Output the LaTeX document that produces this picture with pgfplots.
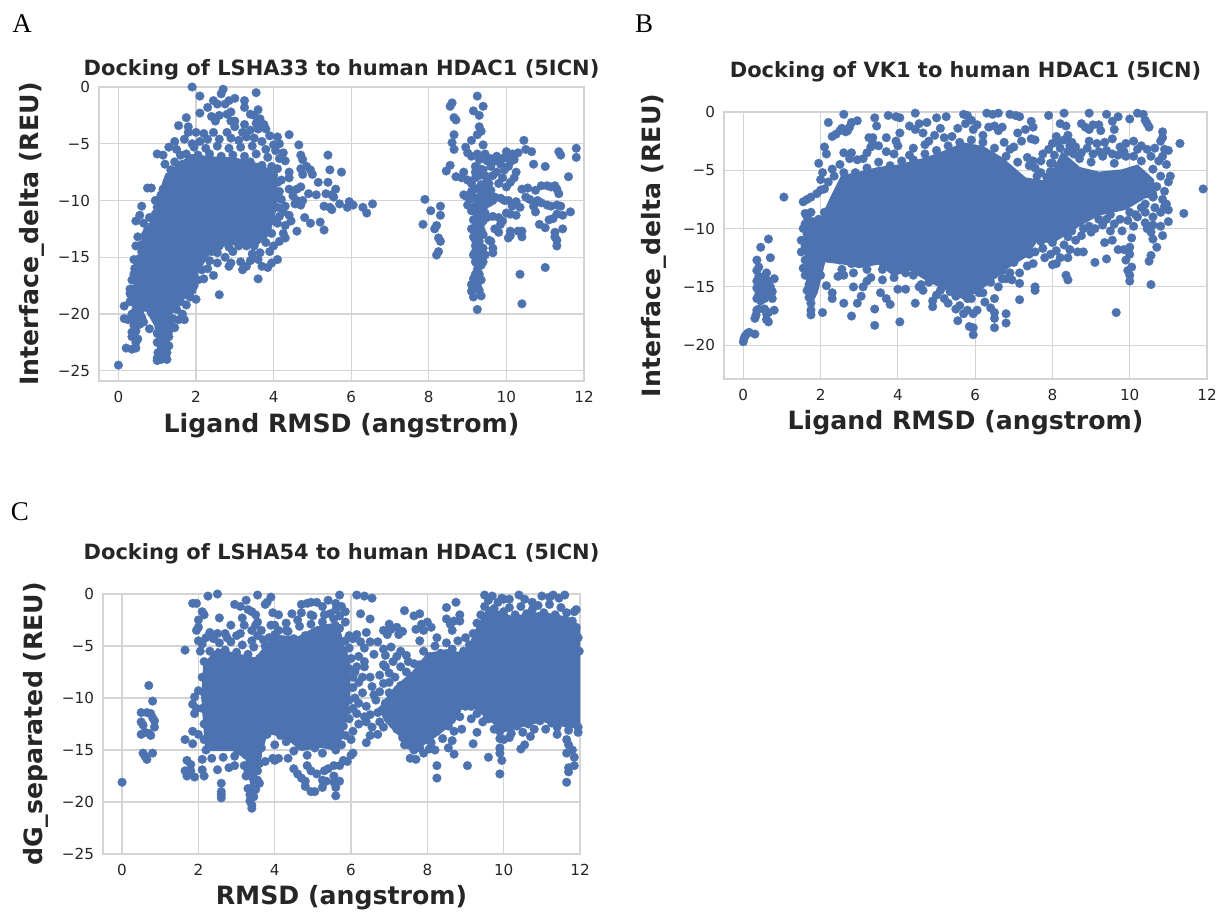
\documentclass[border=0pt]{standalone}
\usepackage{fontspec}
\setmainfont{DejaVu Sans}
\newfontfamily\serifl{Liberation Serif}
\usepackage{pgfplots}
\pgfplotsset{compat=1.18}
\definecolor{dot}{HTML}{4C72B0}
\definecolor{gr}{HTML}{D4D4D4}
\definecolor{tx}{HTML}{262626}
\newcommand\lf{\fontsize{12.6}{14}\selectfont\bfseries\color{tx}}
\newcommand\tf{\fontsize{10.5}{12}\selectfont\bfseries\color{tx}}
% NOTE: all values are estimates. The saturated centre of each
% cloud, where single points cannot be told apart, is drawn as a filled outline (core);
% the points around it are a hand-read sample, not the original data set.
\pgfplotsset{
 panel/.style={scale only axis,axis line style={gr,line width=0.6pt},grid=major,
  grid style={gr,line width=0.6pt},tick style={draw=none},
  xmax=12,xmin=-0.5,xtick={0,2,4,6,8,10,12},
  /pgf/number format/assume math mode=true,
  tick label style={font=\fontsize{7.6}{9}\selectfont,text=tx},
  xticklabel style={yshift=-1.5pt},yticklabel style={xshift=-1pt}},
 pts/.style={only marks,mark=*,mark size=2.2pt,mark options={fill=dot,draw=dot,line width=0.1pt}},
 core/.style={fill=dot,draw=dot,line width=1pt,no markers}
}
\begin{document}
\begin{tikzpicture}
\path[use as bounding box] (0,0) rectangle (609.5pt,456pt);
\node[font=\fontsize{13.5}{15}\selectfont\serifl,text=black] at (11pt,444pt) {A};
\node[font=\fontsize{13.5}{15}\selectfont\serifl,text=black] at (322pt,444pt) {B};
\node[font=\fontsize{13.5}{15}\selectfont\serifl,text=black] at (10pt,200pt) {C};
% ---------- A
\begin{axis}[panel,at={(49.5pt,412.5pt)},anchor=north west,width=242.5pt,height=147pt,
 ymin=-25.9,ymax=0,ytick={-25,-20,-15,-10,-5,0},yticklabels={−25,−20,−15,−10,−5,0},
 title={Docking of LSHA33 to human HDAC1 (5ICN)},
 xlabel={Ligand RMSD (angstrom)},ylabel={Interface\_delta (REU)},
 every axis y label/.style={at={(axis description cs:-0.138,0.5)},rotate=90,anchor=center,font=\lf},
 every axis x label/.style={at={(axis description cs:0.5,-0.153)},anchor=center,font=\lf},
 every axis title/.style={at={(axis description cs:0.5,1.058)},anchor=center,font=\tf}]
\addplot[core] coordinates {(0.4,-19)(0.45,-16.5)(0.6,-14)(0.85,-12)(1.0,-10)(1.2,-8)(1.55,-6.8)(1.9,-6)(2.4,-6.2)(3,-6.3)(3.6,-6.8)(4.0,-7.5)(4.1,-9.5)(4.0,-11.5)(3.85,-12.8)(3.55,-14)(2.8,-13.8)(2.35,-14.6)(1.95,-16.8)(1.65,-18.8)(1.35,-20)(1.28,-23.3)(1.03,-23.3)(0.95,-21)(0.7,-19.5)} --cycle;
\addplot[pts] coordinates {(1.9,0)(2.1,-0.8)(2.65,-0.6)(2.7,-0.2)(2.85,-1.2)(3.0,-1.0)(3.55,-0.5)(2.45,-1.2)(2.55,-1.5)(2.3,-1.8)(2.1,-2.3)(2.75,-1.5)(3.25,-1.8)(3.25,-1.2)(3.6,-2)(3.5,-2.5)(2.4,-2.6)(2.6,-2.5)(2.8,-2.4)(2.9,-2.2)(3.65,-2.8)(3.4,-2.4)(2.5,-3)(2.9,-3)(3.0,-3.0)(3.25,-3.3)(3.55,-3.2)(3.75,-3.3)(1.75,-2.7)(1.55,-3.4)(1.8,-3.5)(1.8,-4)(2.0,-4)(2.2,-4.1)(2.45,-4)(2.8,-4)(3,-3.5)(3.2,-4)(3.4,-3.8)(3.6,-3.7)(3.8,-3.7)(3.9,-4.3)(4.1,-4.4)(3.5,-4.5)(4.4,-4.2)(1.45,-4.8)(1.3,-5.3)(1.7,-4.6)(1.9,-5)(2.1,-4.8)(2.3,-4.6)(2.6,-4.6)(2.9,-4.5)(3.1,-4.7)(3.3,-4.4)(3.7,-4.8)(4.0,-5.1)(4.15,-5.0)(1.0,-5.9)(1.15,-6)(1.5,-5.5)(1.6,-6)(1.2,-6.8)(4.25,-5.8)(4.3,-6.5)(4.65,-5.1)(4.7,-6)(4.75,-6.4)(5.4,-6)(4.7,-7.2)(4.85,-7)(4.95,-7.3)(5.0,-7.7)(4.75,-7.7)(5.45,-7.3)(5.75,-7.5)(4.4,-7.5)(4.4,-8)(4.2,-8.2)(5.15,-8.4)(5.4,-8.4)(4.4,-9)(4.6,-9)(4.7,-8.8)(4.9,-9.4)(5.1,-9.5)(5.35,-9.4)(5.5,-9.5)(5.6,-9)(5.55,-9.7)(4.5,-9.6)(4.6,-10)(4.75,-10)(4.7,-10.4)(4.55,-10.3)(5.3,-10.5)(5.5,-10.8)(5.7,-10.3)(5.45,-10.6)(5.9,-10.6)(5.95,-10.1)(6.05,-10.4)(6.3,-10.6)(6.4,-11.1)(6.55,-10.3)(4.3,-10.5)(4.25,-11)(4.4,-11.3)(4.15,-11.4)(4.1,-12)(4.3,-12.2)(4.45,-11.8)(4.8,-11.5)(4.95,-12)(5.2,-11.9)(5.3,-12.6)(4.6,-12.7)(4.25,-12.9)(4.3,-13.3)(4.15,-13.6)(4.0,-14)(3.9,-14.5)(4.1,-15.2)(3.95,-15.5)(3.85,-15.9)(3.6,-15.2)(3.7,-15.8)(3.6,-16.9)(3.4,-15.3)(3.2,-16.1)(3.15,-15.4)(3.3,-15.8)(2.9,-15.5)(2.95,-14.5)(2.75,-15)(2.85,-15.8)(2.55,-15.5)(2.45,-16.6)(2.2,-16.9)(2.3,-16)(2.6,-18.3)(2.0,-18.7)(1.95,-17.5)(1.85,-18.5)(1.7,-20.5)(1.45,-21.2)(1.9,-17.9)(1.3,-22)
(0,-24.5)(0.2,-23)(0.35,-23.1)(0.45,-23)(0.5,-22.2)(0.35,-22)(0.45,-21.5)(0.55,-20.9)(0.15,-20.4)(0.25,-20.5)(0.15,-19.3)(0.3,-18.9)(0.45,-19.6)(0.6,-20.3)(0.8,-21.3)(0.4,-20.6)(0.35,-20)(0.3,-17.8)(0.4,-15.2)(0.45,-14)(0.5,-13.2)(0.45,-11.8)(0.55,-11.3)(0.6,-10.5)(0.75,-8.9)(0.85,-8.9)(0.8,-11.5)(0.65,-12)(0.95,-10)(1.0,-23.9)(1.0,-24.1)(1.25,-24)(1.1,-23.5)(1.2,-23)(1.0,-22.5)(1.3,-22.8)(0.4,-16.5)(0.35,-17)(0.6,-14.5)(0.7,-13)
(1.95,-5.3)(2.25,-5.4)(2.55,-5.2)(2.85,-5.4)(3.15,-5.3)(3.45,-5.2)(3.8,-5.5)(4.05,-5.6)(1.75,-5.9)(2.05,-6)(2.35,-5.9)(2.65,-6.1)(2.95,-6)(3.25,-6.1)(3.55,-5.9)(3.85,-6.2)(4.15,-6.3)(1.45,-6.6)(1.65,-6.8)(1.35,-7.3)(1.55,-7.4)(1.9,-6.6)(2.2,-6.5)(2.5,-6.6)(2.8,-6.6)(3.1,-6.8)(3.4,-6.6)(3.7,-6.9)(3.95,-7)(4.1,-7.2)(3.7,-7.4)(4,-7.8)(4.1,-8.4)(4.15,-9.2)(4.05,-9.8)(4.2,-9.9)(4.1,-10.6)(3.95,-10.9)(4.0,-11.8)(3.85,-12.3)(3.95,-12.9)(3.75,-13)(3.6,-13.4)(3.8,-13.7)(3.5,-14)(3.3,-14)(3.65,-14.6)(3.45,-14.7)(3.1,-14)(2.85,-14.1)(2.6,-14)(2.4,-14.5)(2.55,-14.6)(2.2,-15)(2.35,-15.3)(2.05,-15.6)(2.15,-16.1)(1.95,-16.5)(1.85,-17)(2.05,-17)(1.7,-17.8)(1.75,-18.3)(1.6,-18.9)(1.75,-19.2)(1.5,-19.6)(1.65,-20)(1.4,-20.4)(1.55,-20.5)(1.35,-20.9)(1.3,-21.5)(1.2,-21.9)(1.0,-21.7)(1.05,-20.7)(1.1,-22.2)(1.25,-23.4)(1.1,-24)(1.02,-23.4)
(0.85,-19.9)(0.7,-19.4)(0.55,-19.1)(0.45,-18.5)(0.4,-17.8)(0.5,-17.3)(0.42,-16)(0.5,-15.6)(0.55,-15.1)(0.6,-13.9)(0.7,-13.5)(0.75,-12.6)(0.85,-12.3)(0.9,-11.7)(0.95,-11.2)(1.0,-10.6)(1.05,-9.9)(1.1,-9.5)(1.15,-9)(1.25,-8.4)(1.3,-7.9)(1.45,-7.7)
(0.3,-18.2)(0.35,-18.6)(0.4,-19)(0.55,-19.8)(0.65,-20.7)(0.5,-20.2)(0.4,-21)(0.45,-22.5)(0.35,-21.6)
(7.85,-12.1)(7.9,-9.9)(8.05,-10.9)(8.3,-10.5)(8.3,-11.3)(8.15,-12.5)(8.2,-12.2)(8.25,-13.3)(8.3,-13.6)(8.25,-14.5)(8.2,-14.8)
(8.45,-7.4)(8.55,-6.9)(8.7,-7.9)(8.55,-1.7)(8.6,-1.4)(8.65,-2.7)(8.7,-2.9)(8.65,-4.2)(8.6,-4.9)(8.65,-5.5)
(9.25,-0.8)(9.15,-2.1)(9.3,-2.5)(9.4,-1.7)(9.3,-3.5)(9.35,-3.9)(9.25,-4.2)(9.1,-4.7)(9.4,-5.1)(8.95,-5.3)(9.0,-5.8)(9.1,-6.1)(9.25,-5.9)
(9.3,-6.4)(9.5,-6.5)(9.2,-7)(9.4,-7.3)(9.6,-7)(9.3,-7.8)(9.5,-8.2)(9.35,-8.6)(9.2,-9)(9.45,-9.3)(9.3,-9.8)(9.4,-10.2)(9.2,-10.5)(9.35,-10.9)(9.3,-11.3)(9.15,-11.7)(9.35,-12)(9.2,-12.4)(9.3,-12.8)(9.15,-13.2)(9.3,-13.6)(9.2,-14)(9.3,-14.4)(9.15,-14.8)(9.35,-15)(9.2,-15.4)(9.35,-15.7)(9.25,-16.1)(9.3,-16.5)(9.15,-16.9)(9.35,-17)(9.1,-17.4)(9.25,-17.5)(9.3,-17.9)(9.1,-18)(9.15,-18.5)(9.35,-18.4)(9.25,-19.6)(9.25,-15)(9.45,-14.8)(9.4,-14.2)(9.25,-13.1)(9.4,-13)(9.35,-12.6)(9.4,-11.8)(9.45,-11.1)(9.3,-10.4)(9.2,-9.8)(9.1,-9.2)(9.35,-9.5)(9.3,-8.9)
(9.2,-11)(9.25,-11.6)(9.25,-12.1)(9.3,-12.2)(9.2,-13.5)(9.3,-13.9)(9.2,-14.5)(9.25,-15.6)(9.3,-15.3)(9.2,-16.5)(9.25,-16.9)(9.4,-15.4)(9.45,-10.4)(9.4,-9.8)(9.55,-10.2)(9.5,-9.5)(9.5,-8.8)(9.45,-7.8)(9.3,-7.2)
(8.9,-7.5)(8.85,-8)(9.0,-8.2)(9.1,-8.5)(8.95,-9.6)(8.9,-9.5)(9.05,-9.9)(9.0,-10.4)(9.1,-10.9)(9.1,-12.5)(9.2,-8)(9.2,-7.5)(9.45,-5.9)(9.6,-6.3)(9.65,-7.8)(9.55,-8.5)(9.55,-9.8)(9.65,-10)(9.7,-9.7)(9.85,-9.8)(9.95,-10)(10.05,-10)(9.6,-9.1)(9.8,-8.5)(9.9,-8)(9.95,-7.3)(10.05,-7)(10.1,-6.6)(10.0,-6.2)(9.9,-6.3)(9.75,-6.1)(9.7,-6.5)(9.85,-6.8)(10,-5.7)(10.15,-5.9)(10.2,-6.4)(10.25,-7.5)(10.2,-8)(10.1,-8.4)(10,-8.8)(9.75,-7.5)(9.5,-11.5)(9.65,-11.4)(9.8,-11.5)(9.9,-11.8)(9.85,-12.1)(9.7,-12.5)(9.55,-13.5)(9.65,-14.2)(9.6,-13.6)(9.65,-14.6)(9.8,-12.8)(10,-11.1)(10.1,-11.2)(10.25,-11.3)(10.15,-10.5)(10.25,-10.1)(10.35,-10.6)(10.4,-9)(10.55,-8.9)(10.5,-9.7)(10.1,-12.7)(10.1,-13.1)(10.3,-12.7)(10.4,-12.7)(10.4,-13.2)(10.05,-13.3)(10.45,-4.7)(10.5,-5.5)(10.65,-5.7)(10.7,-6.8)(10.3,-5.8)(10.35,-16.5)(10.4,-19.1)(11.0,-15.9)(10.6,-9.9)(10.75,-9.1)(10.7,-10.5)(10.75,-10.2)(10.8,-10)(10.9,-10.2)(11.05,-10.4)(11.15,-10.5)(10.75,-11)(10.85,-12.1)(11.15,-8.8)(11.05,-8.7)(10.9,-8.7)(11.25,-8.7)(11.3,-9)(11.35,-9.4)(11.3,-10.4)(11.4,-10.5)(11.2,-11.6)(11.1,-11.7)(11.0,-12.4)(11.3,-11.2)(11.45,-11.3)(11.65,-11)(11.45,-12.5)(11.25,-12.8)(11.25,-13.2)(11.3,-13.5)(11.3,-14)(11.0,-7)(11.35,-5.7)(11.4,-6)(11.6,-7.9)(11.8,-5.4)(11.8,-6.2)};
\end{axis}
% ---------- B
\begin{axis}[panel,at={(362pt,400pt)},anchor=north west,width=241.5pt,height=133.5pt,
 ymin=-22.9,ymax=0,ytick={-20,-15,-10,-5,0},yticklabels={−20,−15,−10,−5,0},
 title={Docking of VK1 to human HDAC1 (5ICN)},
 xlabel={Ligand RMSD (angstrom)},ylabel={Interface\_delta (REU)},
 every axis y label/.style={at={(axis description cs:-0.145,0.5)},rotate=90,anchor=center,font=\lf},
 every axis x label/.style={at={(axis description cs:0.5,-0.165)},anchor=center,font=\lf},
 every axis title/.style={at={(axis description cs:0.5,1.15)},anchor=center,font=\tf}]
\addplot[core] coordinates {(1.62,-9.5)(1.62,-14)(1.78,-16.3)(1.9,-15.5)(2.1,-12.8)(2.6,-13)(3,-13.3)(3.5,-13)(3.9,-14)(4.3,-13.5)(4.8,-14.5)(5.3,-15.3)(5.7,-16)(6.1,-15.3)(6.4,-14.5)(6.9,-13.2)(7.3,-12.4)(7.6,-11)(8,-11.2)(8.7,-9.7)(9.2,-8.8)(9.9,-8.3)(10.4,-7.3)(10.7,-7.3)(10.6,-5.8)(10.2,-4.6)(9.8,-5)(9.2,-5.2)(8.7,-4.8)(8.25,-3.5)(7.9,-6)(7.3,-5.7)(6.7,-4)(6.2,-3)(5.7,-2.7)(5.2,-3.4)(4.7,-4)(4,-4.6)(3.5,-4.8)(3,-5.2)(2.55,-5.5)(2.25,-7.5)(2.0,-9.3)(1.8,-9.2)} --cycle;
\addplot[pts] coordinates {(0,-19.7)(0.02,-19.4)(0.05,-19.2)(0.1,-19)(0.15,-18.9)(0.3,-19.05)(0.3,-17.7)(0.33,-17.4)(0.35,-17)(0.4,-16.9)(0.35,-16)(0.4,-15.6)(0.45,-16.2)(0.35,-15.1)(0.35,-14.5)(0.4,-14.1)(0.45,-14.7)(0.35,-13.6)(0.4,-13.3)(0.35,-12.7)(0.45,-11.6)(0.55,-14.1)(0.6,-13.8)(0.65,-14.5)(0.55,-15)(0.5,-15.5)(0.55,-16)(0.6,-15.3)(0.65,-15.7)(0.7,-15)(0.75,-15.4)(0.75,-16)(0.8,-14.3)(0.7,-12.5)(0.65,-10.9)(0.55,-16.9)(0.6,-17.3)(0.6,-17.8)(0.65,-18)(0.65,-17.2)(0.8,-17)(1.05,-7.3)
(1.55,-7.7)(1.65,-7.5)(1.75,-7.3)(1.9,-7)(2.0,-6.7)(2.1,-6.6)(1.95,-4.4)(2.1,-3)(2.15,-3.6)(2.2,-0.9)(2.3,-2.1)(2.4,-1.9)(2.5,-1.6)(2.55,-1.4)(2.6,-0.2)(2.65,-1.7)(2.7,-1.6)(2.8,-0.9)(2.95,-0.75)(2.75,-1.3)(2.3,-4.9)(2.05,-5.2)(2.0,-5.8)(2.2,-6)(2.5,-4.5)(2.6,-3.5)(2.75,-4)(2.8,-3.5)(2.95,-4.1)(3.1,-4)(3.2,-3.5)(3.3,-3)(3.25,-2.2)(3.35,-2.2)(3.4,-0.5)(3.45,-1.2)(3.35,-2.7)(3.5,-2.9)(3.7,-2.2)(3.75,-0.3)(3.95,-2.5)(4.0,-2.9)(4.05,-1.8)(3.95,-0.4)(4.05,-0.5)(3.7,-3.4)(3.9,-3.6)(4.3,-3.7)(4.4,-3.1)(4.45,-0.1)(4.3,-1.2)(4.45,-1.5)(4.55,-1)(4.65,-1.8)(4.75,-0.9)(4.8,-2.5)(4.7,-2.8)(4.95,-2)(5.0,-0.5)(5.1,-1.4)(5.25,-0.4)(5.2,-2.2)(5.4,-2.1)(5.55,-1.4)(5.7,-0.2)(5.8,-0.3)(5.9,-0.7)(5.75,-1)(5.95,-1.5)(6.05,-1.1)(6.2,-2)(6.3,-0.1)(6.35,-1.3)(6.45,-0.2)(6.5,-1.2)(6.6,-0.1)(6.7,-1.3)(6.75,-2.6)(6.6,-1.6)(6.9,-0.2)(7.05,-0.3)(7.15,-0.4)(7.1,-1.8)(7.0,-3)(6.9,-3.2)(7.2,-2.5)(7.3,-1.5)(7.45,-0.8)(7.5,-1.3)(7.45,-2.3)(7.55,-2.4)(7.35,-3.9)(7.55,-4.8)(7.9,-0.3)(8.0,-2.7)(8.1,-2.1)(8.2,-1)(8.3,-0.1)(8.35,-1.2)(8.4,-2)(8.5,-2.6)(8.6,-3)(7.7,-4.2)(7.95,-4.4)(8.75,-1)(8.85,-1.3)(8.95,-0.1)(8.95,-1.5)(9.05,-1.1)(9.2,-1.1)(9.25,-1.6)(9.15,-2.7)(9.4,-0.2)(9.55,-0.8)(9.6,-1.5)(9.55,-2.3)(9.7,-0.4)(9.75,-3)(9.9,-2.7)(10.0,-0.6)(10.1,-2.5)(10.2,-0.1)(10.35,-0.2)(10.4,-0.7)(10.45,-1)(10.5,-1.3)(10.2,-3.2)(10.1,-3.8)(10.55,-3.8)(10.8,-2.5)(10.85,-1.7)(10.85,-2.2)(10.9,-3.2)(11.0,-3.3)(10.75,-4.2)(10.95,-4.5)(11.05,-5.5)(11.0,-6)(10.9,-6.8)(10.85,-7.5)(10.95,-7.9)(11.0,-8.4)(10.9,-8.1)(11.0,-9.4)(10.8,-9.8)(10.85,-10.6)(10.6,-10.9)(10.7,-11.6)(10.55,-12.3)(10.5,-12.8)(10.55,-14.8)(11.3,-2.7)(11.4,-8.7)(11.9,-6.6)(10.8,-8.6)(10.4,-9.5)(10.6,-9)(10.3,-8.2)(10.15,-8.8)(10.1,-9.8)(10.05,-10.8)(10,-11.6)(10.0,-12.2)(10.05,-13.3)(9.95,-13.6)(10,-14)(10,-14.5)(9.9,-12.7)(9.85,-11.8)(9.7,-11.8)(9.55,-11)(9.35,-11.2)(9.4,-12.6)(9.1,-12.9)(9.65,-17.2)(9.1,-10)(9.3,-9.7)(9.6,-9.6)
(8.8,-12)(8.65,-12)(8.45,-11.8)(8.4,-12.5)(8.35,-14)(8.4,-14.4)(8.2,-12.5)(8.1,-13)(7.95,-12.2)(8.0,-13.1)(7.75,-11.7)(7.55,-12)(7.55,-15)(7.55,-15.3)(7.35,-13.2)(7.15,-13.8)(7.15,-14.7)(7.15,-16.1)(6.95,-14.4)(6.8,-14.3)(6.8,-17.3)(6.8,-18.1)(6.5,-16)(6.5,-17.2)(6.5,-17.7)(6.5,-18.5)(6.4,-16.8)(6.6,-15)(6.25,-16.3)(6.05,-17)(5.9,-16)(5.95,-17.3)(5.95,-18.5)(5.95,-19.1)(5.85,-18.4)(5.7,-17.3)(5.55,-17.9)(5.5,-16.9)(5.3,-16.4)(5.2,-16)(4.9,-16.7)(4.9,-16.2)(4.55,-15)(4.65,-15.3)(4.45,-16.4)(4.0,-15.2)(4.05,-18)(3.8,-16.5)(3.7,-16)(3.55,-15.5)(3.4,-16.9)(3.4,-18.3)(2.95,-16.4)(3.05,-15.8)(2.85,-15)(2.8,-17.5)(2.6,-16.4)(2.3,-15.5)(2.3,-16)(2.05,-17.2)(2.15,-14.9)(2.45,-14.1)(2.6,-14)(1.75,-17.4)(1.75,-17)(1.75,-16.4)(1.7,-15.9)(1.65,-15.3)(1.55,-13.4)(1.5,-12)(1.5,-11)(1.55,-10)(1.6,-8.7)(1.75,-8.6)(2.1,-8.6)(3.2,-14.5)(3.1,-15)(4.2,-15.2)(5,-15.7)(5.6,-16.6)(5.8,-17)(6.2,-15.5)(6.7,-14.3)
(2.35,-5.5)(2.6,-5.2)(2.9,-5.2)(3.2,-4.8)(3.5,-4.3)(3.8,-4.6)(4.1,-4.2)(4.4,-4.1)(4.7,-3.6)(5,-3.3)(5.3,-2.9)(5.6,-2.6)(5.9,-2.4)(6.2,-2.6)(6.5,-3.1)(6.8,-3.8)(7.1,-4.3)(7.4,-4.6)(7.7,-5.2)(8,-4.4)(8.2,-3.1)(8.4,-3.4)(8.7,-4)(9,-4.3)(9.3,-3.8)(9.6,-4.4)(9.9,-3.8)(10.3,-4.2)(10.6,-4.9)(10.8,-5.5)(10.7,-6.4)(10.6,-7.3)(10.4,-7.9)(10,-8.6)(9.5,-8.8)(9.2,-9.2)(8.8,-10)(8.4,-10.7)(8,-11.2)(7.7,-11.1)(7.4,-12.2)(7,-12.9)(6.7,-13.6)(6.4,-14.6)(6.1,-15.5)(5.8,-16)(5.5,-15.8)(5.1,-15.3)(4.8,-14.6)(4.4,-14)(4,-13.5)(3.6,-13.5)(3.2,-13.5)(2.8,-13)(2.5,-12.7)(2.2,-12.5)(2,-14)(1.85,-15)
(3.3,-14.2)(3.6,-14.4)(3.9,-14.2)(4.2,-13.8)(4.6,-14.8)(5.35,-15.4)(6,-15)(6.5,-13.9)(6.9,-13.8)(2.55,-13.5)(2.85,-13.8)(3,-13)(1.6,-12.7)(1.6,-11.5)(1.65,-10.5)(1.6,-9.6)(1.65,-9)(1.8,-9.4)(1.95,-9.2)(1.85,-14.5)(1.7,-14.8)(1.6,-14)(1.9,-13)(2.05,-11)(2.1,-9.8)
(7.6,-5.5)(7.85,-5.6)(7.95,-5.1)(7.5,-4.2)(7.75,-3.6)(7.9,-3.2)(8.05,-3.7)(8.15,-2.6)(8.3,-2.4)(8.45,-2.9)(8.55,-3.6)(8.75,-3.5)(8.9,-3.1)(9.05,-3.6)(9.2,-3.4)(9.4,-3.3)(9.55,-3.6)(9.7,-3.7)(8.95,-2.5)(9.35,-2.6)(8.2,-10.1)(8.5,-10.2)(8.75,-10.6)(9,-10.3)(8.6,-11)(8.95,-9.8)(9.4,-9.2)(9.75,-9.2)(9.95,-9.3)(10.2,-9)(9.8,-10.2)(9.5,-10.2)(10.4,-8.6)(10.65,-8.2)(10.6,-9.7)(8.3,-11.4)(8.1,-11.9)(7.8,-12.5)(7.5,-13)(10.45,-10)(10.55,-10.3)(10.85,-3.8)(10.65,-3.1)(10.45,-3.2)(10.3,-2.9)(9.85,-3.4)};
\end{axis}
% ---------- C
\begin{axis}[panel,at={(51.5pt,159pt)},anchor=north west,width=238.5pt,height=130pt,
 ymin=-25,ymax=0,ytick={-25,-20,-15,-10,-5,0},yticklabels={−25,−20,−15,−10,−5,0},
 title={Docking of LSHA54 to human HDAC1 (5ICN)},
 xlabel={RMSD (angstrom)},ylabel={dG\_separated (REU)},
 every axis y label/.style={at={(axis description cs:-0.14,0.5)},rotate=90,anchor=center,font=\lf},
 every axis x label/.style={at={(axis description cs:0.5,-0.169)},anchor=center,font=\lf},
 every axis title/.style={at={(axis description cs:0.5,1.154)},anchor=center,font=\tf}]
\addplot[core] coordinates {(2.15,-6.8)(2.5,-5.3)(3,-5.8)(3.5,-6.2)(4,-4)(4.6,-4.2)(5.1,-3.2)(5.65,-2.8)(5.8,-5)(5.95,-6.5)(5.95,-10)(5.8,-13)(5.65,-15)(5.2,-14.7)(4.7,-15)(4.3,-13.8)(3.8,-13.3)(3.6,-15.8)(3.42,-19)(3.25,-15.8)(2.9,-15)(2.5,-15)(2.2,-15)(2.1,-10)} --cycle;
\addplot[core] coordinates {(7.15,-9)(7.6,-7.6)(8,-5.8)(8.5,-5.4)(9,-5.8)(9.3,-3.3)(9.6,-1.3)(10.2,-2.2)(11,-1.8)(11.7,-2.3)(12,-3.3)(12,-12.7)(11.6,-12.7)(11,-12.2)(10.5,-12.7)(10,-13.2)(9.5,-11.7)(9,-10.2)(8.7,-12.3)(8.2,-13.7)(7.6,-15.2)(7.3,-13.7)(6.9,-12.2)(6.75,-11)} --cycle;
\addplot[pts] coordinates {(0,-18.1)(0.5,-11.4)(0.65,-11.4)(0.75,-11.5)(0.8,-11.9)(0.5,-12.3)(0.55,-12.6)(0.85,-12.2)(0.85,-12.8)(0.5,-13.5)(0.6,-13.3)(0.7,-13.4)(0.75,-13.6)(0.7,-8.8)(0.8,-10.3)(0.55,-15.3)(0.6,-15.6)(0.65,-15.9)(0.8,-15.3)
(1.65,-5.4)(1.65,-14)(1.85,-14.4)(1.85,-13.2)(1.9,-9.9)(1.85,-10.6)(1.95,-11)(2.0,-9.3)(1.9,-11.5)(2.0,-13.5)(1.7,-16)(1.8,-16.4)(1.65,-17)(1.7,-17.5)(1.8,-17)(1.9,-17.6)(1.85,-0.9)(1.95,-0.9)(2.0,-2.5)(1.95,-3.5)(2.0,-3.2)(2.0,-4.5)(2.05,-5.5)(2.1,-4.8)(2.1,-1.7)(2.15,-2)(2.25,-0.2)(2.3,-3.7)(2.4,-4.3)(2.55,-2.3)(2.5,-0)(2.1,-16.9)(2.15,-17.5)(2.5,-16.9)(2.6,-18.2)(2.6,-19)(2.6,-19.3)(2.6,-19.6)(2.8,-16.7)(2.95,-16.5)(2.7,-3.8)(2.85,-3)(2.95,-1)(3.0,-4)(3.1,-1.2)(3.15,-2.3)(3.2,-3)(3.3,-1.5)(3.25,-0.6)(3.4,-1.7)(3.5,-2)(3.5,-3)(3.55,-4)(3.4,-4.5)(3.55,-2.7)(3.65,-3.5)(3.75,-1)(3.8,-0.8)(3.55,-0.1)(3.9,-0.3)(3.95,-1.8)(4.1,-2)(4.0,-3)(4.1,-3.5)(4.3,-2.8)(4.45,-1.9)(4.7,-1.8)(4.7,-1)(4.85,-0.9)(4.95,-0.8)(4.95,-2)(5.1,-0.8)(5.25,-1.2)(5.4,-0.6)(5.3,-2)(5.6,-0.9)(5.6,-1.5)(5.7,-0.1)(5.75,-1.2)(5.85,-1.7)(5.85,-2.7)(5.95,-4)(6.05,-4.3)(6.15,-3.9)(6.25,-1.9)(6.15,-0.1)(6.35,-0.2)(6.55,-0.4)(6.5,-2.4)(6.4,-3.7)(6.25,-4.6)(6.35,-5.2)(6.5,-4.6)(6.7,-4.6)(6.2,-6)(6.35,-6.5)(6.35,-7)(6.1,-7.5)(6.3,-8)(6.2,-8.5)(6.05,-9)(6.3,-9.5)(6.1,-10)(6.2,-10.5)(6.05,-11)(6.5,-8)(6.55,-8.9)(6.6,-9.7)(6.65,-10.2)(6.75,-7.8)(6.75,-9.4)(6.85,-8.6)(6.6,-5.8)(6.85,-5.3)(6.9,-5.9)(7.05,-5.1)(6.85,-3.5)(6.95,-3.9)(7.0,-2.9)(7.05,-3.4)(7.2,-3.2)(7.25,-3.9)(7.35,-3.6)(7.4,-1.6)(7.2,-6)(7.1,-6.5)(7.3,-7)(7.5,-6.5)(6.35,-11.8)(6.4,-12.3)(6.55,-12.8)(6.7,-13.5)(6.5,-13.6)(6.4,-14.3)(6.05,-13.2)(6,-14)(6.05,-15.3)(7.65,-2.1)(7.8,-1.9)(7.7,-3.4)(7.9,-3.5)(7.85,-2.9)(7.8,-4.5)(8.0,-2.7)(8.1,-3.2)(8.25,-4.2)(8.5,-1.3)(8.5,-2.4)(8.6,-2.9)(8.7,-2.6)(8.75,-0.8)(8.85,-2)(8.85,-2.6)(8.65,-3.5)(9,-4.2)(7.55,-15.8)(7.7,-15.9)(7.9,-15.3)(7.4,-14.5)(8.2,-15)(8.25,-16.5)(8.25,-17.7)(8.05,-14.9)(8.55,-14.8)(8.7,-15.4)(8.65,-14.1)(8.9,-13)(9.05,-16.5)(9.2,-14.4)(9.3,-13.3)(9.6,-15.7)(9.15,-12)(9.3,-11.5)(9.4,-10.8)(9.55,-12)(9.9,-14.8)(9.9,-15.3)(9.95,-16)(9.9,-17.3)(10,-14)(9.9,-13.9)(10.15,-13.8)(10.45,-14.9)(10.55,-14.5)(10.7,-13.7)(11.4,-13.5)(11.65,-14)(11.7,-14.5)(11.8,-15)(11.65,-15.3)(11.85,-15.7)(11.7,-16.7)(11.85,-16.5)(11.7,-17.1)(11.65,-18.1)(11.95,-13.3)(9.5,-0.1)(9.7,-0.2)(9.95,-0.4)(10,-0.5)(10.15,-0.5)(10.4,-0.1)(10.55,-0.5)(10.75,-0.8)(11,-0.2)(11.2,-0.3)(11.3,-0.1)(11.45,-0.4)(11.6,-0.1)(11.85,-1.7)(11.9,-1.5)(3.55,-17)(3.6,-16.3)(3.2,-16.5)(3.3,-17)(3.4,-17.5)(3.55,-17.9)(3.6,-18.2)(3.25,-17.5)(3.3,-18.7)(3.5,-18.8)(3.35,-19.3)(3.45,-19.5)(3.35,-19.9)(3.4,-20.3)(3.4,-20.6)(3.75,-16.1)(3.95,-15.8)(4.1,-15.8)(4.0,-16)(4.35,-15.8)(4.5,-16.8)(4.6,-17.3)(4.7,-17.7)(4.8,-18)(4.8,-18.5)(4.85,-16.5)(4.95,-17)(4.95,-19)(5.05,-19)(5.25,-17.9)(5.25,-18.6)(5.35,-18)(5.1,-17.3)(5.3,-17)(5.4,-16.8)(5.55,-16.5)(5.55,-17.5)(5.55,-18.1)(5.6,-18.6)(5.6,-19.4)(5.7,-18)(5.7,-16.5)(5.9,-16.1)(6,-15.5)(5.8,-16)
(2.15,-6.5)(2.3,-5.5)(2.45,-6.3)(2.55,-4.7)(2.7,-5.4)(2.85,-4.6)(3,-5.6)(3.15,-4.9)(3.3,-5.8)(3.45,-5.1)(3.6,-6.2)(3.75,-5)(3.85,-4.2)(4,-3.9)(4.2,-4.6)(4.35,-3.6)(4.5,-4.3)(4.65,-3.1)(4.8,-4)(4.95,-2.9)(5.1,-3.7)(5.25,-2.7)(5.4,-3.3)(5.55,-2.4)(5.7,-3.3)(5.85,-4.5)(5.95,-5.2)(5.8,-5.7)(6,-6.2)(5.95,-7.2)(6.05,-8)(5.95,-9)(5.95,-10.2)(5.9,-11.2)(5.95,-12)(5.8,-12.7)(5.85,-13.6)(5.75,-14.5)(5.6,-15)(5.45,-14.5)(5.25,-15.3)(5.05,-14.8)(4.85,-15.5)(4.65,-14.6)(4.5,-15.1)(4.3,-14.2)(4.15,-13.6)(4,-14.5)(3.8,-13.5)(3.65,-14.8)(3.55,-15.6)(3.4,-15)(3.25,-15.5)(3.45,-16.3)(3.1,-14.5)(2.95,-15.6)(2.8,-14.6)(2.65,-15.7)(2.5,-14.6)(2.35,-15.8)(2.2,-15)(2.15,-14)(2.1,-15.9)(2.15,-12.5)(2.1,-11)(2.15,-9.5)(2.1,-8)(2.25,-7)(2.2,-4.2)(2.5,-3.8)(2.75,-4.2)(3.1,-3.8)(3.4,-3.5)(3.7,-4.4)(3.9,-3)(4.3,-3.5)(4.6,-2.5)(5,-2.1)(5.45,-1.9)(5.7,-2.1)
(7.15,-8)(7.3,-8.8)(7.45,-7.5)(7.6,-7.9)(7.65,-6.7)(7.8,-6.8)(7.9,-5.5)(8.05,-6)(8.2,-5)(8.35,-5.7)(8.5,-4.7)(8.65,-5.3)(8.8,-4.5)(8.95,-5.5)(9.1,-4.9)(9.2,-3.8)(9.3,-2.8)(9.4,-2)(9.5,-1.2)(9.6,-0.6)(9.75,-1.4)(9.85,-0.8)(10,-1.7)(10.15,-1.3)(10.3,-2)(10.45,-1.2)(10.6,-1.9)(10.75,-1.5)(10.9,-1.1)(11.05,-1.8)(11.2,-1)(11.35,-2)(11.5,-1.3)(11.65,-1.8)(11.8,-2.6)(11.9,-3.2)(11.95,-4.2)(11.98,-5.5)
(7,-9.5)(6.9,-10.5)(6.8,-11.2)(6.95,-11.8)(7.1,-12.5)(7.2,-13)(7.35,-13.8)(7.5,-14.5)(7.65,-15)(7.8,-14.8)(7.95,-14)(8.1,-14.3)(8.25,-13.2)(8.4,-13.9)(8.55,-12.7)(8.7,-13.2)(8.85,-11.8)(9,-10.8)(9.15,-10.8)(9.3,-10.5)(9.45,-12.3)(9.6,-12)(9.75,-13)(9.9,-13.2)(10.05,-12.8)(10.2,-13.4)(10.35,-12.7)(10.5,-13.3)(10.65,-12.5)(10.8,-13)(10.95,-12.2)(11.1,-13)(11.25,-12.4)(11.4,-12.8)(11.55,-12.2)(11.7,-13.1)(11.85,-12.5)(11.95,-12.8)(7.25,-10.8)(7.1,-10.2)(7.3,-5.5)(7.45,-5.9)
(6.15,-11.5)(6.2,-12.5)(6.15,-7)(6.4,-10.8)(6.5,-11.6)(6.7,-11.4)(6.75,-12.3)(6.85,-12.8)(6.9,-7)(7,-7.6)(7,-8.5)(6.85,-6.8)};
\end{axis}
\end{tikzpicture}
\end{document}
